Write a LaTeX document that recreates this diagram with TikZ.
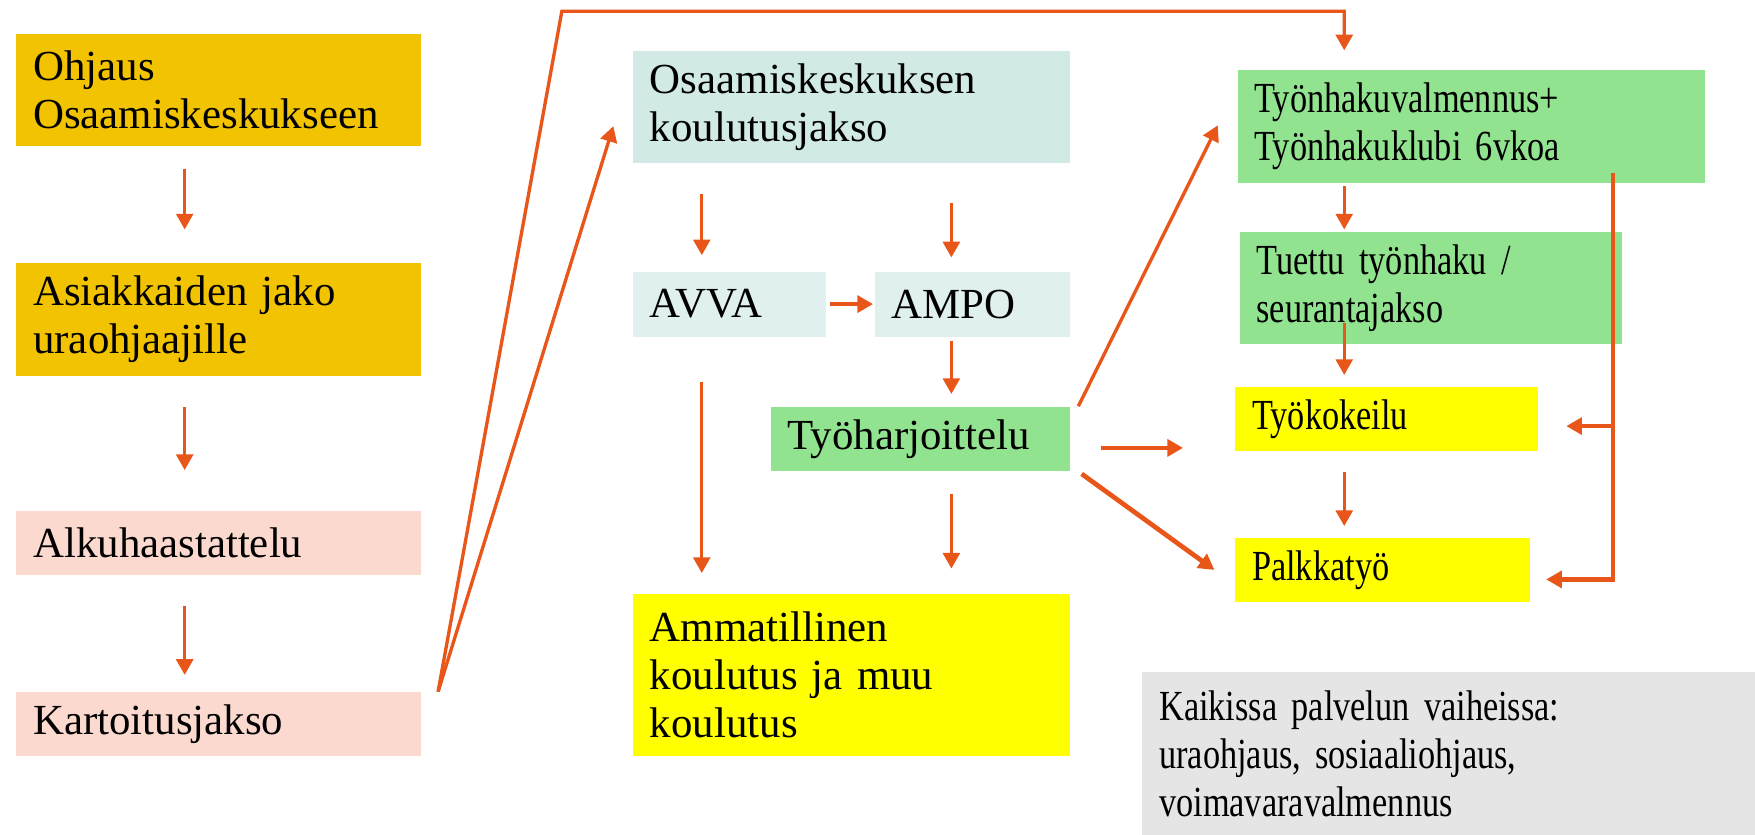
\documentclass[tikz,border=0pt]{standalone}
\usepackage{fontspec}
\setmainfont{Liberation Serif}
\newfontfamily\narrowfont[FakeStretch=0.8]{Liberation Serif}
\usetikzlibrary{arrows.meta}
\definecolor{goldbox}{RGB}{242,195,0}
\definecolor{pinkbox}{RGB}{251,217,207}
\definecolor{tealbox}{RGB}{210,234,229}
\definecolor{paletealbox}{RGB}{224,240,238}
\definecolor{greenbox}{RGB}{146,227,143}
\definecolor{yellowbox}{RGB}{255,255,0}
\definecolor{greybox}{RGB}{229,229,229}
\definecolor{arrowred}{RGB}{232,86,26}
\newcommand{\flowfont}{\fontsize{10.9}{12.2}\selectfont\spaceskip=2.1pt plus 0.5pt minus 0.3pt\relax}
\newcommand{\flownarrow}{\narrowfont\fontsize{10.9}{12.2}\selectfont\spaceskip=1.7pt plus 0.4pt minus 0.3pt\relax}
\tikzset{
    stage/.style={
        rectangle,
        anchor=north west,
        align=left,
        inner xsep=0.15cm,
        inner ysep=0pt,
        font=\flowfont
    },
    arr/.style={
        draw=arrowred,
        line width=0.85pt,
        -{Triangle[length=0.14cm,width=0.15cm]}
    },
    thickarr/.style={
        arr,
        line width=1.2pt
    },
    gap/.style 2 args={
        shorten <=#1,
        shorten >=#2
    }
}
\begin{document}
\begin{tikzpicture}
        \useasboundingbox (0,0) rectangle (15.68,-7.46);
        % columns of the vertical arrows
        \coordinate (lc) at (1.65,0);
        \coordinate (ml) at (6.27,0);
        \coordinate (mr) at (8.50,0);
        \coordinate (rc) at (12.01,0);

        \node[stage,fill=goldbox,text width=3.31cm,minimum height=1.00cm] (ohjaus) at (0.14,-0.30) {Ohjaus\\Osaamiskeskukseen};
        \node[stage,fill=goldbox,text width=3.31cm,minimum height=1.01cm] (asiak) at (0.14,-2.34) {Asiakkaiden jako\\uraohjaajille};
        \node[stage,fill=pinkbox,text width=3.31cm,minimum height=0.57cm] (alku) at (0.14,-4.56) {Alkuhaastattelu};
        \node[stage,fill=pinkbox,text width=3.31cm,minimum height=0.57cm] (kart) at (0.14,-6.18) {Kartoitusjakso};

        \node[stage,fill=tealbox,text width=3.60cm,minimum height=1.00cm] (osaamis) at (5.65,-0.45) {Osaamiskeskuksen\\koulutusjakso};
        \node[stage,fill=paletealbox,text width=1.42cm,minimum height=0.58cm] (avva) at (5.65,-2.42) {AVVA};
        \node[stage,fill=paletealbox,text width=1.44cm,minimum height=0.58cm] (ampo) at (7.81,-2.42) {AMPO};
        \node[stage,fill=greenbox,text width=2.37cm,minimum height=0.57cm] (tyoharj) at (6.88,-3.63) {Työharjoittelu};
        \node[stage,fill=yellowbox,text width=3.60cm,minimum height=1.45cm] (ammat) at (5.65,-5.30) {Ammatillinen\\koulutus ja muu\\koulutus};

        \node[stage,font=\flownarrow,fill=greenbox,text width=3.88cm,minimum height=1.01cm] (tyonhaku) at (11.05,-0.62) {Työnhakuvalmennus+\\Työnhakuklubi 6vkoa};
        \node[stage,font=\flownarrow,fill=greenbox,text width=3.11cm,minimum height=1.00cm] (tuettu) at (11.07,-2.07) {Tuettu työnhaku /\\seurantajakso};
        \node[stage,font=\flownarrow,fill=yellowbox,text width=2.40cm,minimum height=0.57cm] (tyokok) at (11.03,-3.45) {Työkokeilu};
        \node[stage,font=\flownarrow,fill=yellowbox,text width=2.33cm,minimum height=0.57cm] (palkka) at (11.03,-4.80) {Palkkatyö};
        \node[stage,font=\flownarrow,fill=greybox,text width=5.18cm,minimum height=1.46cm] (kaikki) at (10.20,-6.00) {Kaikissa palvelun vaiheissa:\\uraohjaus, sosiaaliohjaus,\\voimavaravalmennus};

        % left column
        \draw[arr,gap={0.20cm}{0.29cm}] (ohjaus.south -| lc) -- (asiak.north -| lc);
        \draw[arr,gap={0.27cm}{0.36cm}] (asiak.south -| lc) -- (alku.north -| lc);
        \draw[arr,gap={0.27cm}{0.15cm}] (alku.south -| lc) -- (kart.north -| lc);

        % from Kartoitusjakso
        \coordinate (kstart) at ([xshift=0.15cm]kart.north east);
        \coordinate (ktop) at (5.02,-0.10);
        \draw[arr] (kstart) -- ([shift={(-0.17cm,-0.17cm)}]osaamis.west);
        \draw[arr,shorten >=0.17cm] (kstart) -- (ktop) -| (tyonhaku.north -| rc);

        % middle column
        \draw[arr,gap={0.27cm}{0.14cm}] (osaamis.south -| ml) -- (avva.north -| ml);
        \draw[arr,gap={0.35cm}{0.12cm}] (osaamis.south -| mr) -- (ampo.north -| mr);
        \draw[thickarr,gap={0.03cm}{0.01cm}] (avva) -- (ampo);
        \draw[arr,gap={0.03cm}{0.11cm}] (ampo.south -| mr) -- (tyoharj.north -| mr);
        \draw[arr,gap={0.40cm}{0.18cm}] (avva.south -| ml) -- (ammat.north -| ml);
        \draw[arr,gap={0.20cm}{0.22cm}] (tyoharj.south -| mr) -- (ammat.north -| mr);

        % from Työharjoittelu
        \draw[thickarr,gap={0.27cm}{0.46cm}] ([yshift=-0.08cm]tyoharj.east) -- ([yshift=-0.08cm]tyoharj.east -| tyokok.west);
        \draw[thickarr] ([shift={(0.10cm,-0.02cm)}]tyoharj.south east) -- ([xshift=-0.18cm]palkka.west);
        \draw[arr] ([xshift=0.07cm]tyoharj.north east) -- ([shift={(-0.17cm,-0.50cm)}]tyonhaku.north west);

        % right column
        \draw[arr,gap={0.02cm}{0.02cm}] (tyonhaku.south -| rc) -- (tuettu.north -| rc);
        \draw[arr,gap={-0.20cm}{0.10cm}] (tuettu.south -| rc) -- (tyokok.north -| rc);
        \draw[arr,gap={0.18cm}{0.10cm}] (tyokok.south -| rc) -- (palkka.north -| rc);

        % back from Työnhakuvalmennus
        \coordinate (fb) at (14.41,-1.55);
        \draw[thickarr,shorten >=0.14cm] (fb) |- ([yshift=-0.085cm]palkka.east);
        \draw[thickarr,shorten >=0.25cm] ([yshift=-0.065cm]fb |- tyokok.east) -- ([yshift=-0.065cm]tyokok.east);
    \end{tikzpicture}
\end{document}
